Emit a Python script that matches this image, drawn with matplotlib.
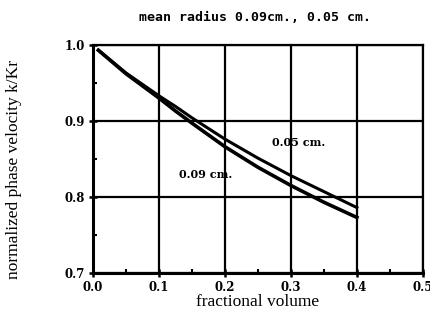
import numpy as np
import matplotlib.pyplot as plt
from matplotlib.ticker import MultipleLocator

# valeurs
frac = [0.008, 0.05, 0.1, 0.125, 0.15, 0.2, 0.25, 0.3, 0.35, 0.4]
k_009 = [0.993, 0.962, 0.930, 0.913, 0.897, 0.866, 0.839, 0.815, 0.793, 0.773]
k_005 = [0.993, 0.963, 0.933, 0.919, 0.904, 0.876, 0.851, 0.828, 0.807, 0.786]

xticks = [0.0, 0.1, 0.2, 0.3, 0.4, 0.5]
xticklabels = ["0.0", "0.1", "0.2", "0.3", "0.4", "0.5"]
yticks = [0.7, 0.8, 0.9, 1.0]
yticklabels = ["0.7", "0.8", "0.9", "1.0"]

fig = plt.figure(figsize=(4.31, 3.23), dpi=100)
ax = fig.add_axes([0.216, 0.155, 0.765, 0.706])

ax.plot(frac, k_009, color="black", lw=2.6)
ax.plot(frac, k_005, color="black", lw=2.2)

ax.set_xlim(0, 0.5)
ax.set_ylim(0.7, 1.0)
ax.set_xticks(xticks)
ax.set_xticklabels(xticklabels, fontweight="bold", family="DejaVu Serif", fontsize=8.5)
ax.set_yticks(yticks)
ax.set_yticklabels(yticklabels, fontweight="bold", family="DejaVu Serif", fontsize=8.5)
ax.xaxis.set_minor_locator(MultipleLocator(0.05))
ax.yaxis.set_minor_locator(MultipleLocator(0.05))
ax.tick_params(which="major", direction="inout", length=6, width=1.8, pad=3)
ax.tick_params(which="minor", direction="in", length=3, width=1.5)
ax.grid(True, which="major", color="black", lw=1.6)
for s in ax.spines.values():
    s.set_linewidth(1.6)
ax.spines["left"].set_linewidth(2.2)
ax.spines["bottom"].set_linewidth(2.2)

ax.text(0.171, 0.83, "0.09 cm.", fontsize=8, fontweight="bold", family="DejaVu Serif", ha="center", va="center")
ax.text(0.311, 0.872, "0.05 cm.", fontsize=8, fontweight="bold", family="DejaVu Serif", ha="center", va="center")

ax.set_xlabel("fractional volume", family="Liberation Serif", fontsize=12.5, labelpad=0)
ax.set_ylabel("normalized phase velocity k/Kr", family="Liberation Serif", fontsize=12.5)
ax.yaxis.set_label_coords(-0.215, 0.455)
fig.text(0.592, 0.947, "mean radius 0.09cm., 0.05 cm.", fontsize=9.5, fontweight="bold",
         family="DejaVu Sans Mono", ha="center", va="center")

fig.savefig("out.png", dpi=100)
